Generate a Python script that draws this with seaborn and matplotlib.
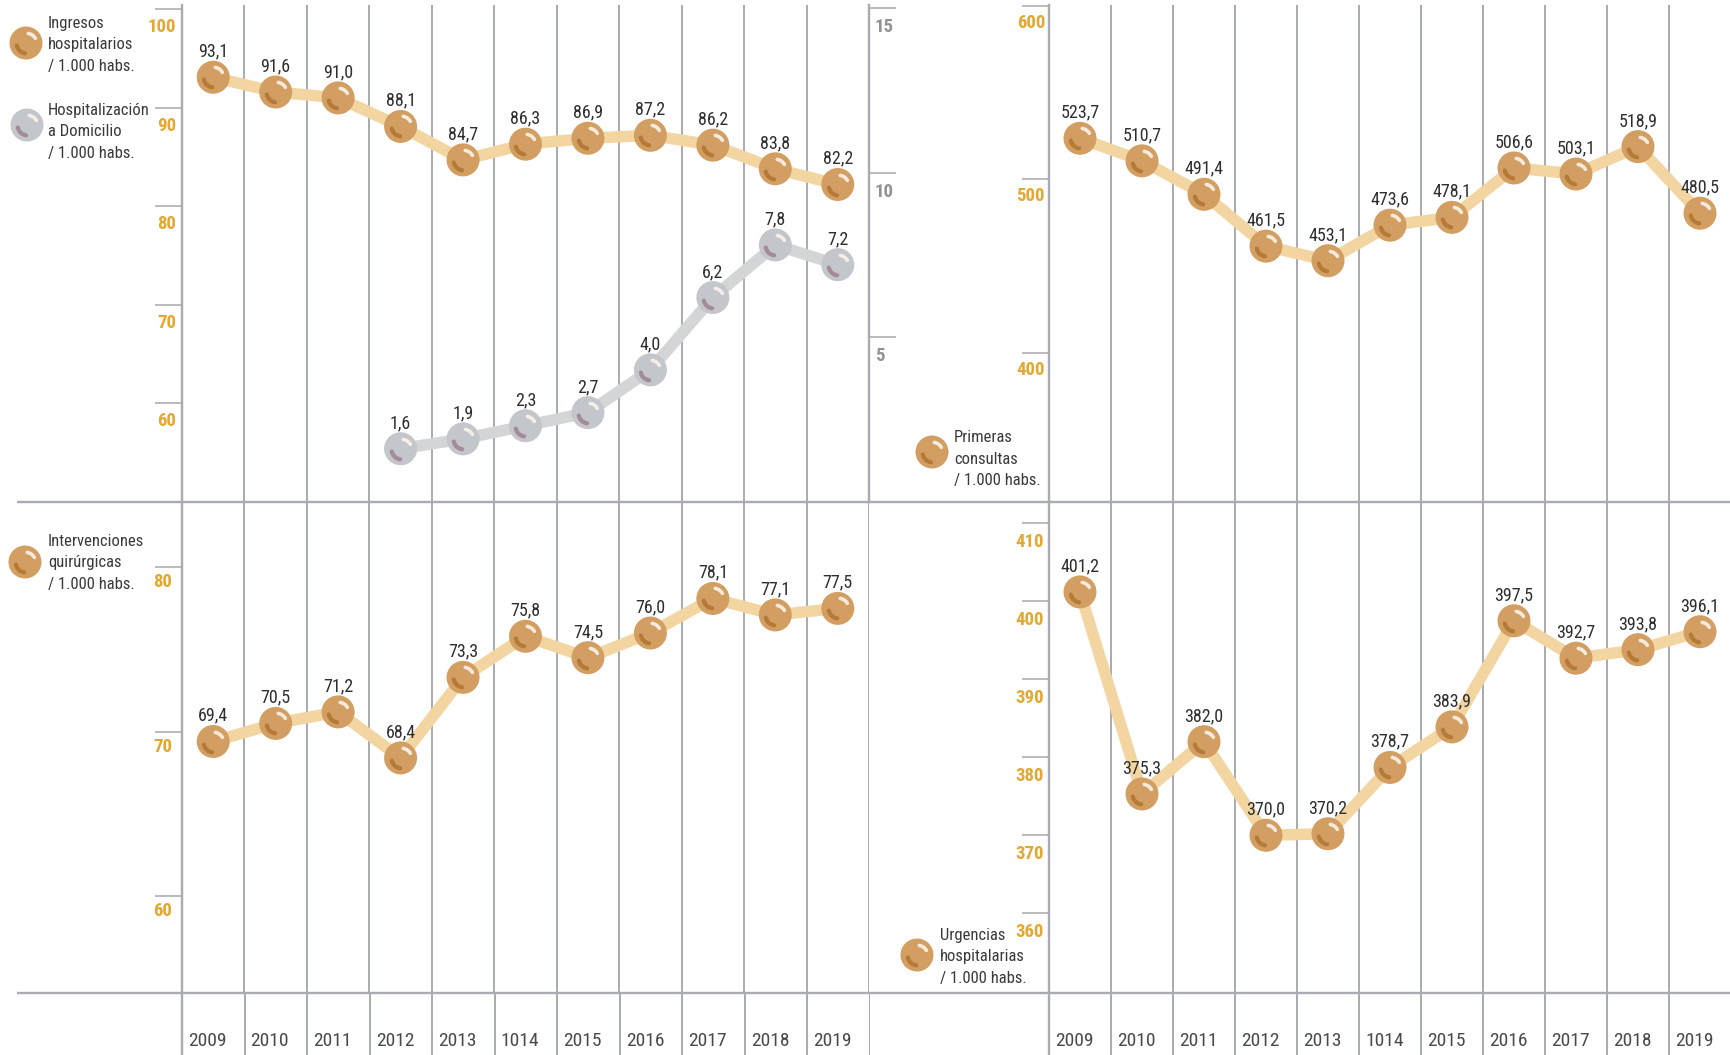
import numpy as np
import pandas as pd
import matplotlib
matplotlib.use("Agg")
import matplotlib.pyplot as plt
import seaborn as sns
from matplotlib.path import Path
from matplotlib.markers import MarkerStyle
from matplotlib.transforms import ScaledTranslation

# ---------------------------------------------------------------- data
years = ["2009", "2010", "2011", "2012", "2013", "1014", "2015",
         "2016", "2017", "2018", "2019"]
ingresos = [93.1, 91.6, 91.0, 88.1, 84.7, 86.3, 86.9, 87.2, 86.2, 83.8, 82.2]
domicilio_start = 3  # series begins in 2012
domicilio = [1.6, 1.9, 2.3, 2.7, 4.0, 6.2, 7.8, 7.2]
intervenciones = [69.4, 70.5, 71.2, 68.4, 73.3, 75.8, 74.5, 76.0, 78.1, 77.1, 77.5]
primeras = [523.7, 510.7, 491.4, 461.5, 453.1, 473.6, 478.1, 506.6, 503.1, 518.9, 480.5]
urgencias = [401.2, 375.3, 382.0, 370.0, 370.2, 378.7, 383.9, 397.5, 392.7, 393.8, 396.1]

ticks_ingresos = [60, 70, 80, 90, 100]
ticks_domicilio = [5, 10, 15]
ticks_intervenciones = [60, 70, 80]
ticks_primeras = [400, 500, 600]
ticks_urgencias = [360, 370, 380, 390, 400, 410]

label_ingresos = ["Ingresos", "hospitalarios", "/ 1.000 habs."]
label_domicilio = ["Hospitalización", "a Domicilio", "/ 1.000 habs."]
label_intervenciones = ["Intervenciones", "quirúrgicas", "/ 1.000 habs."]
label_primeras = ["Primeras", "consultas", "/ 1.000 habs."]
label_urgencias = ["Urgencias", "hospitalarias", "/ 1.000 habs."]

# ---------------------------------------------------------------- style
sns.set_theme(style="white")
FONT = ["Liberation Sans Narrow", "Roboto Condensed", "DejaVu Sans"]
plt.rcParams["font.family"] = FONT

W, H, DPI = 1731, 1055, 100
PT = 72.0 / DPI          # points per pixel
GRID = "#A9ACB0"
GOLD_TXT = "#E2A832"
GREY_TXT = "#8F9297"
VAL_TXT = "#2E2E2E"
LEG_TXT = "#3A3A3A"

GOLD_BALL, GOLD_DARK, GOLD_LINE = "#D39E62", "#B57A38", "#F3D5A2"
GREY_BALL, GREY_DARK, GREY_LINE = "#C3C6CB", "#A58B99", "#D4D5D7"
BALL = 33 * PT           # ball diameter in points

fig = plt.figure(figsize=(W / DPI, H / DPI), dpi=DPI)
fig.patch.set_facecolor("white")


def px_axes(x0, y0, x1, y1, **kw):
    """Axes placed with pixel edges measured from the top-left corner."""
    return fig.add_axes([x0 / W, 1 - y1 / H, (x1 - x0) / W, (y1 - y0) / H], **kw)


def arc_marker(t1, t2, r=0.62):
    arc = Path.arc(t1, t2)
    verts = np.vstack([[[1, 0]], [[-1, 0]], arc.vertices * r])
    codes = np.concatenate([[Path.MOVETO, Path.MOVETO], arc.codes])
    return MarkerStyle(Path(verts, codes), fillstyle="none", capstyle="round")


SHADE = arc_marker(192, 262, 0.6)
SHINE = arc_marker(30, 80, 0.62)


def draw_balls(ax, x, y, base, dark, z=3):
    sns.scatterplot(x=x, y=y, ax=ax, s=BALL ** 2, color=base, edgecolor="none",
                    linewidth=0, zorder=z, legend=False)
    ax.plot(x, y, ls="none", marker=SHADE, ms=BALL, mec=dark, mew=4.2 * PT,
            zorder=z + 1)
    ax.plot(x, y, ls="none", marker=SHINE, ms=BALL, mec="#FBF3EA", mew=3.6 * PT,
            alpha=0.9, zorder=z + 1)


def draw_series(ax, xs, vals, base, dark, line):
    df = pd.DataFrame({"x": xs, "v": vals})
    sns.lineplot(data=df, x="x", y="v", ax=ax, color=line, linewidth=11.5 * PT,
                 sort=False, zorder=2, legend=False)
    draw_balls(ax, df["x"], df["v"], base, dark)
    for xv, v in zip(xs, vals):
        ax.annotate(f"{v:.1f}".replace(".", ","), (xv, v), xytext=(0, 12),
                    textcoords="offset points", ha="center", va="bottom",
                    fontsize=13, color=VAL_TXT, zorder=6)
    ax.set_xlabel("")
    ax.set_ylabel("")


def column_grid(ax, ncols, xmax):
    ax.set_xlim(0, xmax)
    ax.set_xticks(np.arange(0, ncols + 1))
    ax.tick_params(axis="x", length=0, labelbottom=False, bottom=False)
    ax.xaxis.grid(True, color=GRID, lw=2 * PT)
    ax.yaxis.grid(False)
    ax.set_facecolor("none")
    for s in ("top", "right", "bottom"):
        ax.spines[s].set_visible(False)
    ax.spines["left"].set_color(GRID)
    ax.spines["left"].set_linewidth(2.4 * PT)


def y_ticks(ax, ticks, color, side="left", pad_px=8, drop_px=16):
    ax.set_yticks(ticks)
    ax.set_yticklabels([str(t) for t in ticks])
    on_left = side == "left"
    ax.tick_params(axis="y", left=on_left, right=not on_left,
                   labelleft=on_left, labelright=not on_left,
                   direction="out", length=27 * PT, width=1.6 * PT, color=GRID,
                   pad=(pad_px - 27) * PT, labelcolor=color, labelsize=13.5)
    shift = ScaledTranslation(0, -drop_px / DPI, fig.dpi_scale_trans)
    for lab in ax.get_yticklabels():
        lab.set_fontweight("bold")
        lab.set_transform(lab.get_transform() + shift)


LEFT_X0, LEFT_X1 = 182, 869
RIGHT_X0, RIGHT_X1 = 1049, 1731
RCOL = 62.5
RIGHT_XMAX = (RIGHT_X1 - RIGHT_X0) / RCOL
TOP0, MID, BOT = 5, 502, 993

xs = np.arange(len(years)) + 0.5

# ---------------------------------------------------------------- top-left
ax1 = px_axes(LEFT_X0, TOP0, LEFT_X1, MID)
column_grid(ax1, 11, 11)
draw_series(ax1, xs, ingresos, GOLD_BALL, GOLD_DARK, GOLD_LINE)
ax1.set_ylim(49.94, 100.44)
y_ticks(ax1, ticks_ingresos, GOLD_TXT, pad_px=6, drop_px=16)

ax1b = ax1.twinx()
ax1b.set_facecolor("none")
for s in ("top", "left", "bottom"):
    ax1b.spines[s].set_visible(False)
ax1b.spines["right"].set_color(GRID)
ax1b.spines["right"].set_linewidth(2.4 * PT)
ax1b.grid(False)
draw_series(ax1b, xs[domicilio_start:], domicilio, GREY_BALL, GREY_DARK, GREY_LINE)
ax1b.set_ylim(-0.02, 15.10)
y_ticks(ax1b, ticks_domicilio, GREY_TXT, side="right", pad_px=6, drop_px=17)
ax1b.set_xlim(0, 11)

# ---------------------------------------------------------------- top-right
ax3 = px_axes(RIGHT_X0, TOP0, RIGHT_X1, MID)
column_grid(ax3, 11, RIGHT_XMAX)
draw_series(ax3, xs, primeras, GOLD_BALL, GOLD_DARK, GOLD_LINE)
ax3.set_ylim(313.95, 600.58)
y_ticks(ax3, ticks_primeras, GOLD_TXT, pad_px=4, drop_px=15)

# ---------------------------------------------------------------- bottom-left
ax2 = px_axes(LEFT_X0, MID, LEFT_X1, BOT)
column_grid(ax2, 11, 11)
draw_series(ax2, xs, intervenciones, GOLD_BALL, GOLD_DARK, GOLD_LINE)
ax2.set_ylim(54.10, 83.97)
y_ticks(ax2, ticks_intervenciones, GOLD_TXT, pad_px=10, drop_px=13)

# ---------------------------------------------------------------- bottom-right
ax4 = px_axes(RIGHT_X0, MID, RIGHT_X1, BOT)
column_grid(ax4, 11, RIGHT_XMAX)
draw_series(ax4, xs, urgencias, GOLD_BALL, GOLD_DARK, GOLD_LINE)
ax4.set_ylim(349.78, 412.73)
y_ticks(ax4, ticks_urgencias, GOLD_TXT, pad_px=5, drop_px=17)

# ---------------------------------------------------------------- year strips
for x0, x1, xmax in ((LEFT_X0, LEFT_X1 + 1, 11), (RIGHT_X0, RIGHT_X1, RIGHT_XMAX)):
    axs = px_axes(x0, BOT, x1, H)
    column_grid(axs, 11, xmax)
    axs.set_ylim(0, 1)
    axs.set_yticks([])
    for k, yr in enumerate(years):
        axs.annotate(yr, (k, 0.23), xytext=(6 * PT, 0), textcoords="offset points",
                     ha="left", va="center", fontsize=14, color="#4A4A4A")

# ---------------------------------------------------------------- overlay: dividers & legends
ov = fig.add_axes([0, 0, 1, 1], zorder=10)
ov.set_xlim(0, W)
ov.set_ylim(H, 0)
ov.axis("off")
ov.patch.set_alpha(0)
for yy in (MID, BOT):
    ov.plot([17, W], [yy, yy], color=GRID, lw=2.4 * PT, solid_capstyle="butt")

legends = [
    ((26, 43), (48, 28), label_ingresos, GOLD_BALL, GOLD_DARK),
    ((27, 125), (48, 115), label_domicilio, GREY_BALL, GREY_DARK),
    ((25, 562), (48, 546), label_intervenciones, GOLD_BALL, GOLD_DARK),
    ((932, 452), (954, 442), label_primeras, GOLD_BALL, GOLD_DARK),
    ((917, 955), (940, 940), label_urgencias, GOLD_BALL, GOLD_DARK),
]
for (bx, by), (tx, ty), lines, base, dark in legends:
    draw_balls(ov, [bx], [by], base, dark)
    for i, ln in enumerate(lines):
        ov.text(tx, ty + i * 21.5, ln, ha="left", va="baseline", fontsize=12,
                color=LEG_TXT)

fig.savefig("out.png", dpi=DPI, facecolor="white")
